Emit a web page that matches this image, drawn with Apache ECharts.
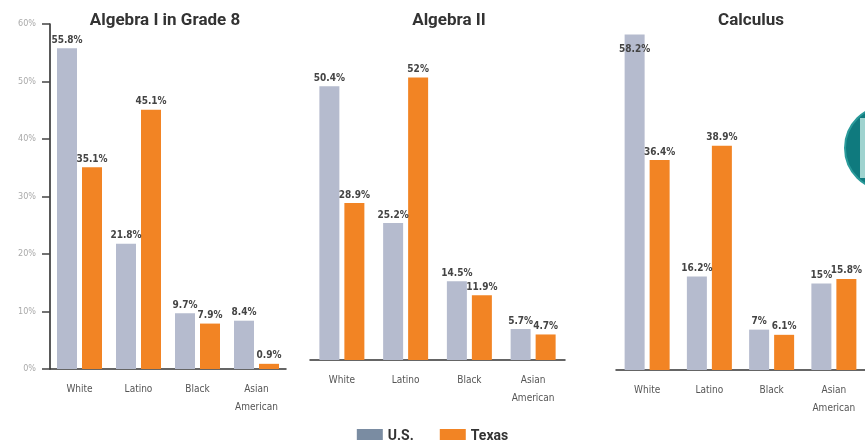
<!DOCTYPE html>
<html>
<head>
<meta charset="utf-8">
<script src="https://cdn.jsdelivr.net/npm/echarts@6/dist/echarts.min.js"></script>
<style>
  html, body { margin: 0; padding: 0; background: #fff; }
  #chart { width: 865px; height: 440px; }
</style>
</head>
<body>
<div id="chart"></div>
<script>
// data
const categories = ['White', 'Latino', 'Black', 'Asian\nAmerican'];
const panelTitles = ['Algebra I in Grade 8', 'Algebra II', 'Calculus'];
const usAlgebra1 = [55.8, 21.8, 9.7, 8.4];
const txAlgebra1 = [35.1, 45.1, 7.9, 0.9];
const usAlgebra2 = [50.4, 25.2, 14.5, 5.7];
const txAlgebra2 = [28.9, 52, 11.9, 4.7];
const usCalculus = [58.2, 16.2, 7, 15];
const txCalculus = [36.4, 38.9, 6.1, 15.8];
const yTicks = ['0%', '10%', '20%', '30%', '40%', '50%', '60%'];

const US_COLOR = '#b5bbce';
const TX_COLOR = '#f28424';
const narrow = "'DejaVu Sans Condensed', 'Liberation Sans Narrow', sans-serif";

const chart = echarts.init(document.getElementById('chart'));

const grids = [
  { left: 50, top: 24, width: 236, height: 345 },
  { left: 310, top: 34, width: 255, height: 326 },
  { left: 616, top: 24, width: 252, height: 346 }
];

const valueLabel = {
  show: true,
  position: 'top',
  distance: 3,
  formatter: '{c}%',
  fontFamily: narrow,
  fontWeight: 'bold',
  fontSize: 10,
  color: '#444'
};

function makeSeries(name, data, idx, color) {
  return {
    name: name,
    type: 'bar',
    xAxisIndex: idx,
    yAxisIndex: idx,
    barWidth: 20,
    barGap: '25%',
    data: data,
    itemStyle: { color: color },
    label: valueLabel
  };
}

// the tall calculus bar has its label tucked inside the top
const usCalcData = usCalculus.map((v, i) => i === 0
  ? { value: v, label: { position: 'insideTop', distance: 10 } }
  : v);

const option = {
  animation: false,
  backgroundColor: '#fff',
  title: panelTitles.map((t, i) => ({
    text: t,
    left: [160, 444, 746][i],
    top: 7,
    textAlign: 'center',
    textStyle: { fontFamily: 'Roboto, sans-serif', fontWeight: 'bold', fontSize: 17, color: '#333' }
  })),
  legend: {
    top: 424,
    left: 'center',
    icon: 'rect',
    itemWidth: 26,
    itemHeight: 14,
    itemGap: 26,
    textStyle: { fontFamily: 'Roboto, sans-serif', fontWeight: 'bold', fontSize: 14, color: '#333' },
    data: [
      { name: 'U.S.', itemStyle: { color: '#7a8ca2' } },
      { name: 'Texas', itemStyle: { color: TX_COLOR } }
    ]
  },
  grid: grids,
  xAxis: grids.map((g, i) => ({
    type: 'category',
    gridIndex: i,
    data: categories,
    axisLine: { lineStyle: { color: '#333', width: 1.5 } },
    axisTick: { alignWithLabel: true, length: 8, lineStyle: { color: '#333', width: 1.5 } },
    axisLabel: { margin: 11, fontFamily: narrow, fontSize: 10, color: '#555', lineHeight: 18, interval: 0 }
  })),
  yAxis: grids.map((g, i) => ({
    type: 'value',
    gridIndex: i,
    min: 0,
    max: 60,
    interval: 10,
    show: i === 0,
    splitLine: { show: false },
    axisLine: { show: true, lineStyle: { color: '#222', width: 1.5 } },
    axisTick: { show: true, length: 8, lineStyle: { color: '#444', width: 1.5 } },
    axisLabel: {
      margin: 14,
      fontFamily: narrow,
      fontSize: 9,
      color: '#aaa',
      formatter: v => yTicks[v / 10]
    }
  })),
  series: [
    makeSeries('U.S.', usAlgebra1, 0, US_COLOR),
    makeSeries('Texas', txAlgebra1, 0, TX_COLOR),
    makeSeries('U.S.', usAlgebra2, 1, US_COLOR),
    makeSeries('Texas', txAlgebra2, 1, TX_COLOR),
    makeSeries('U.S.', usCalcData, 2, US_COLOR),
    makeSeries('Texas', txCalculus, 2, TX_COLOR)
  ],
  graphic: [
    {
      type: 'circle',
      shape: { cx: 887, cy: 148, r: 42 },
      style: { fill: '#0f7a7e', stroke: '#2a9a9a', lineWidth: 2 },
      z: -1
    },
    {
      type: 'rect',
      shape: { x: 860, y: 118, width: 10, height: 60 },
      style: { fill: '#9fd3cf' },
      z: -1
    }
  ]
};

chart.setOption(option);
</script>
</body>
</html>
